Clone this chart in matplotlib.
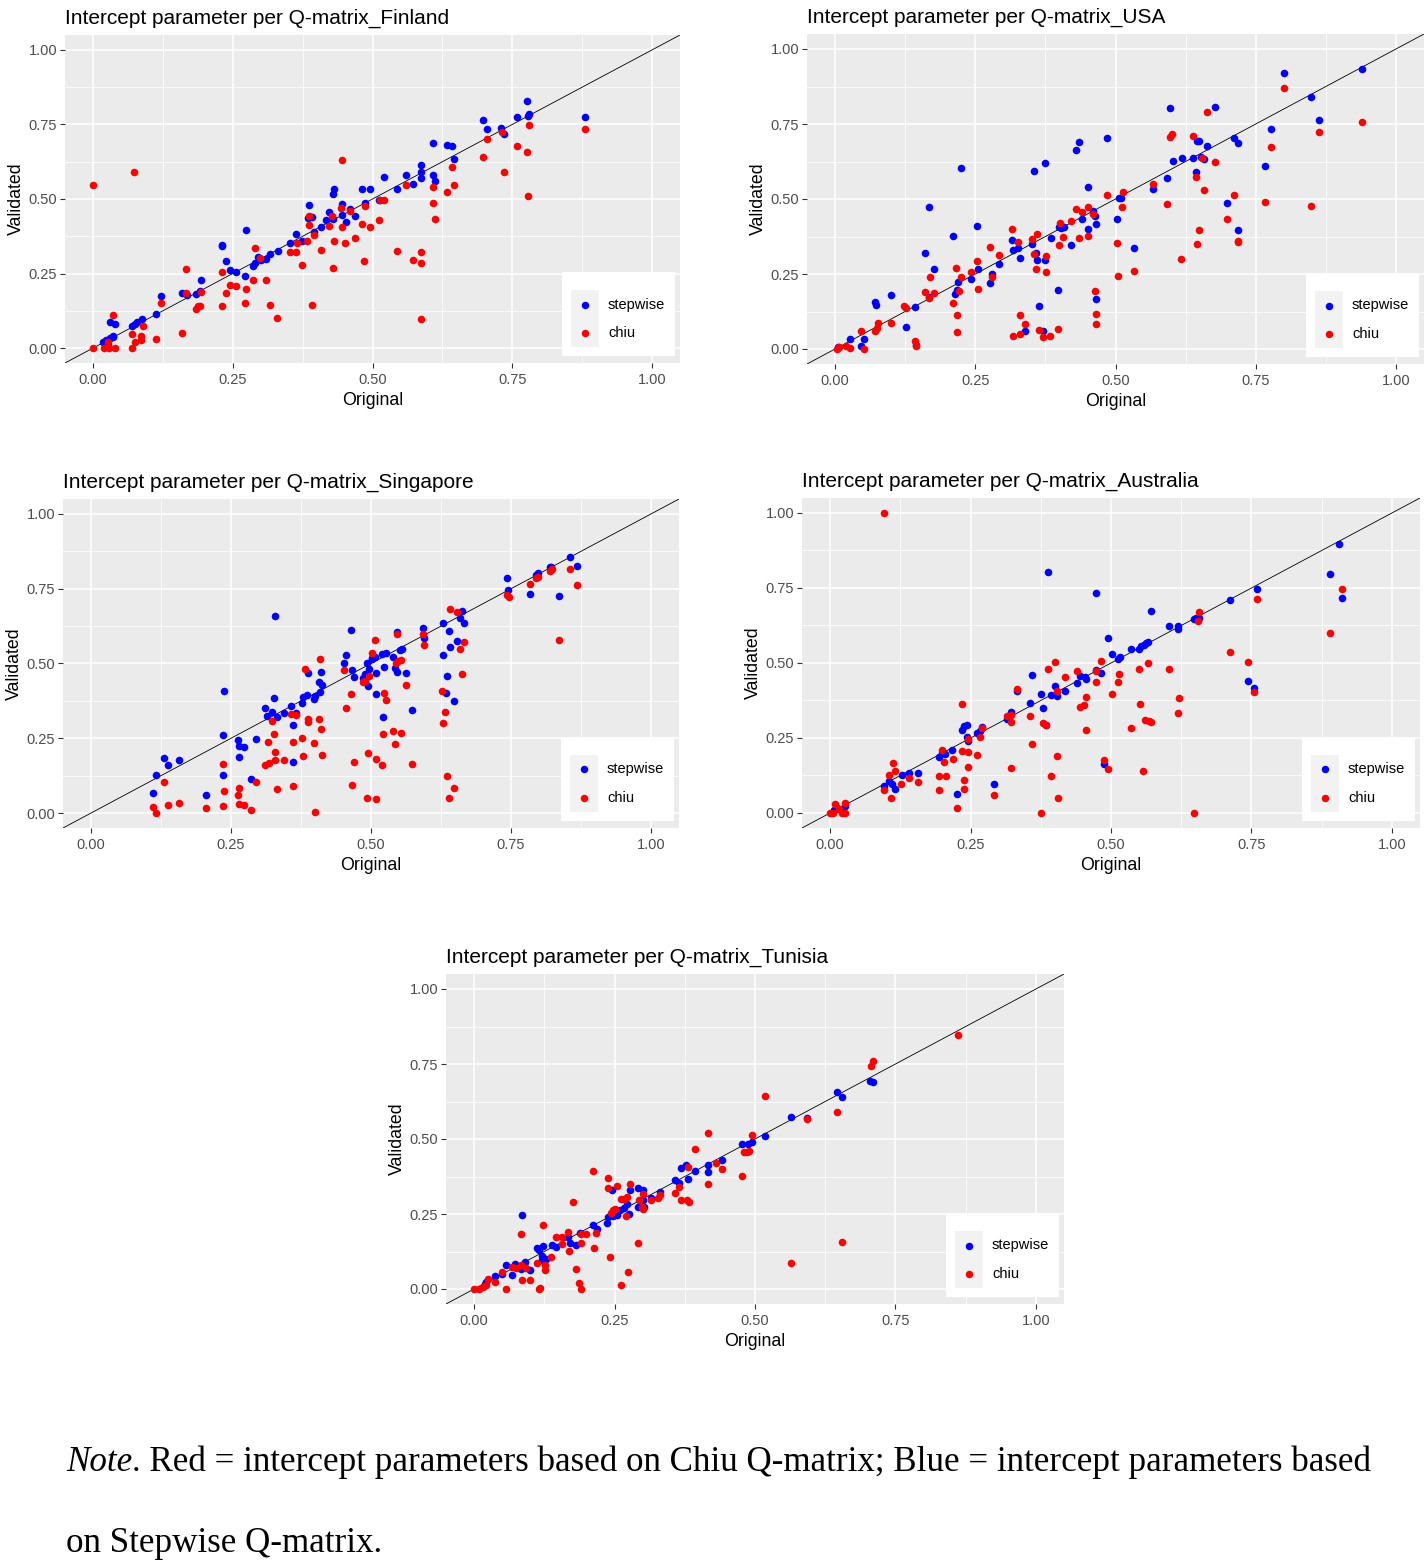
import numpy as np
import matplotlib
matplotlib.use('Agg')
import matplotlib.pyplot as plt
from matplotlib.patches import Rectangle
from matplotlib.lines import Line2D

# ---------------- data (Original, Validated) ----------------
fin_step = [(0.018,0.022),(0.024,0.028),(0.030,0.034),(0.035,0.037),(0.021,0.017),(0.027,0.011),(0.031,0.089),(0.039,0.082),
 (0.036,0.039),(0.069,0.073),(0.075,0.082),(0.079,0.086),(0.088,0.097),(0.112,0.114),(0.122,0.175),(0.159,0.184),(0.168,0.179),
 (0.184,0.181),(0.191,0.190),(0.193,0.229),(0.230,0.346),(0.231,0.341),(0.238,0.293),(0.246,0.263),(0.256,0.255),(0.272,0.242),
 (0.274,0.397),(0.286,0.276),(0.290,0.285),(0.295,0.304),(0.301,0.296),(0.310,0.298),(0.316,0.316),(0.331,0.326),(0.352,0.352),
 (0.363,0.383),(0.374,0.359),(0.385,0.436),(0.386,0.480),(0.388,0.441),(0.392,0.441),(0.395,0.389),(0.407,0.406),(0.417,0.428),
 (0.422,0.456),(0.429,0.432),(0.429,0.517),(0.431,0.534),(0.446,0.484),(0.446,0.447),(0.452,0.423),(0.459,0.467),(0.469,0.444),
 (0.481,0.533),(0.486,0.488),(0.495,0.533),(0.512,0.497),(0.520,0.575),(0.543,0.533),(0.560,0.579),(0.573,0.551),(0.587,0.615),
 (0.587,0.590),(0.587,0.570),(0.609,0.687),(0.609,0.581),(0.611,0.562),(0.634,0.680),(0.643,0.677),(0.646,0.634),(0.698,0.764),
 (0.705,0.734),(0.730,0.737),(0.736,0.717),(0.759,0.774),(0.777,0.830),(0.779,0.777),(0.780,0.785),(0.880,0.774)]
fin_chiu = [(0.000,0.547),(0.073,0.589),(0.000,0.000),(0.020,0.000),(0.029,0.000),(0.040,0.000),(0.027,0.022),(0.036,0.112),
 (0.070,0.000),(0.070,0.048),(0.076,0.021),(0.086,0.028),(0.086,0.041),(0.089,0.075),(0.112,0.030),(0.122,0.151),(0.159,0.050),
 (0.167,0.265),(0.166,0.184),(0.184,0.131),(0.188,0.140),(0.191,0.142),(0.193,0.187),(0.230,0.256),(0.231,0.142),(0.238,0.184),
 (0.246,0.211),(0.256,0.209),(0.272,0.151),(0.274,0.199),(0.286,0.229),(0.290,0.335),(0.298,0.302),(0.310,0.229),(0.316,0.144),
 (0.330,0.101),(0.352,0.323),(0.364,0.323),(0.365,0.352),(0.374,0.279),(0.383,0.360),(0.386,0.413),(0.386,0.444),(0.391,0.145),
 (0.396,0.380),(0.407,0.330),(0.422,0.408),(0.427,0.444),(0.429,0.269),(0.431,0.360),(0.443,0.469),(0.446,0.407),(0.446,0.631),
 (0.451,0.351),(0.459,0.460),(0.469,0.369),(0.481,0.417),(0.484,0.293),(0.486,0.477),(0.495,0.406),(0.512,0.430),(0.514,0.497),
 (0.520,0.495),(0.543,0.326),(0.560,0.546),(0.573,0.296),(0.587,0.322),(0.587,0.285),(0.587,0.097),(0.609,0.540),(0.609,0.486),
 (0.611,0.432),(0.634,0.523),(0.643,0.607),(0.646,0.546),(0.698,0.640),(0.705,0.701),(0.731,0.726),(0.736,0.591),(0.759,0.677),
 (0.777,0.656),(0.779,0.511),(0.780,0.747),(0.880,0.734)]

usa_step = [(0.005,0.006),(0.026,0.032),(0.046,0.010),(0.052,0.032),(0.071,0.156),(0.073,0.146),(0.100,0.179),(0.127,0.072),
 (0.143,0.139),(0.145,0.013),(0.160,0.319),(0.168,0.472),(0.167,0.174),(0.177,0.266),(0.211,0.376),(0.214,0.182),(0.219,0.222),
 (0.217,0.197),(0.224,0.602),(0.243,0.232),(0.253,0.409),(0.254,0.266),(0.277,0.219),(0.279,0.249),(0.292,0.282),(0.316,0.362),
 (0.318,0.329),(0.326,0.336),(0.330,0.302),(0.338,0.059),(0.351,0.349),(0.354,0.592),(0.359,0.319),(0.360,0.297),(0.364,0.142),
 (0.371,0.059),(0.375,0.619),(0.375,0.297),(0.385,0.369),(0.397,0.196),(0.399,0.408),(0.402,0.402),(0.408,0.406),(0.420,0.346),
 (0.429,0.662),(0.435,0.689),(0.440,0.434),(0.451,0.539),(0.451,0.399),(0.460,0.460),(0.464,0.444),(0.465,0.416),(0.465,0.166),
 (0.485,0.702),(0.503,0.432),(0.506,0.502),(0.510,0.504),(0.533,0.336),(0.566,0.532),(0.591,0.569),(0.597,0.802),(0.602,0.626),
 (0.618,0.636),(0.638,0.636),(0.643,0.590),(0.645,0.693),(0.648,0.693),(0.653,0.639),(0.657,0.632),(0.664,0.676),(0.677,0.806),
 (0.698,0.486),(0.711,0.702),(0.718,0.396),(0.719,0.686),(0.767,0.609),(0.778,0.732),(0.801,0.919),(0.848,0.839),(0.862,0.762),
 (0.940,0.932)]
usa_chiu = [(0.003,0.000),(0.007,0.006),(0.020,0.011),(0.026,0.004),(0.046,0.059),(0.052,0.000),(0.072,0.059),(0.074,0.071),
 (0.077,0.086),(0.100,0.086),(0.123,0.143),(0.127,0.137),(0.143,0.026),(0.145,0.010),(0.160,0.189),(0.167,0.169),(0.169,0.239),
 (0.177,0.186),(0.211,0.152),(0.215,0.269),(0.218,0.112),(0.218,0.056),(0.221,0.192),(0.224,0.241),(0.243,0.256),(0.253,0.293),
 (0.255,0.199),(0.277,0.339),(0.279,0.241),(0.292,0.312),(0.316,0.399),(0.318,0.043),(0.327,0.356),(0.329,0.050),(0.330,0.112),
 (0.338,0.083),(0.351,0.366),(0.354,0.317),(0.360,0.383),(0.359,0.267),(0.364,0.063),(0.371,0.039),(0.376,0.310),(0.376,0.256),
 (0.384,0.043),(0.397,0.066),(0.399,0.346),(0.401,0.419),(0.406,0.372),(0.420,0.426),(0.429,0.467),(0.435,0.369),(0.440,0.456),
 (0.451,0.473),(0.451,0.376),(0.460,0.449),(0.463,0.192),(0.465,0.116),(0.465,0.082),(0.484,0.512),(0.503,0.352),(0.505,0.242),
 (0.513,0.522),(0.511,0.472),(0.533,0.259),(0.566,0.551),(0.591,0.482),(0.597,0.706),(0.601,0.716),(0.617,0.299),(0.638,0.709),
 (0.643,0.572),(0.645,0.349),(0.648,0.396),(0.654,0.636),(0.657,0.529),(0.664,0.789),(0.677,0.622),(0.698,0.432),(0.711,0.512),
 (0.718,0.359),(0.719,0.356),(0.767,0.489),(0.778,0.672),(0.801,0.869),(0.848,0.476),(0.862,0.722),(0.940,0.756)]

sgp_step = [(0.111,0.067),(0.116,0.127),(0.131,0.185),(0.138,0.160),(0.158,0.178),(0.206,0.060),(0.235,0.127),(0.236,0.261),
 (0.238,0.408),(0.263,0.244),(0.265,0.224),(0.265,0.189),(0.274,0.220),(0.285,0.114),(0.294,0.247),(0.311,0.351),(0.315,0.324),
 (0.323,0.337),(0.326,0.384),(0.328,0.658),(0.332,0.321),(0.344,0.334),(0.358,0.359),(0.360,0.294),(0.360,0.170),(0.366,0.334),
 (0.376,0.367),(0.378,0.388),(0.385,0.395),(0.387,0.468),(0.398,0.382),(0.400,0.393),(0.407,0.437),(0.410,0.473),(0.412,0.427),
 (0.409,0.406),(0.452,0.501),(0.455,0.528),(0.464,0.611),(0.466,0.479),(0.470,0.454),(0.485,0.451),(0.489,0.464),(0.492,0.503),
 (0.495,0.424),(0.497,0.481),(0.502,0.518),(0.508,0.523),(0.509,0.468),(0.509,0.398),(0.501,0.516),(0.522,0.321),(0.520,0.531),
 (0.526,0.535),(0.524,0.487),(0.540,0.523),(0.542,0.484),(0.546,0.470),(0.547,0.605),(0.552,0.545),(0.555,0.547),(0.563,0.467),
 (0.574,0.344),(0.592,0.618),(0.594,0.585),(0.628,0.528),(0.629,0.635),(0.636,0.458),(0.634,0.401),(0.639,0.608),(0.641,0.555),
 (0.649,0.374),(0.654,0.575),(0.659,0.651),(0.663,0.675),(0.666,0.635),(0.743,0.785),(0.745,0.745),(0.784,0.732),(0.795,0.795),
 (0.799,0.803),(0.819,0.823),(0.822,0.823),(0.836,0.725),(0.855,0.855),(0.867,0.825)]
sgp_chiu = [(0.111,0.020),(0.116,0.000),(0.131,0.104),(0.138,0.027),(0.158,0.033),(0.206,0.017),(0.235,0.023),(0.236,0.164),
 (0.238,0.073),(0.263,0.060),(0.265,0.084),(0.265,0.030),(0.274,0.027),(0.285,0.010),(0.294,0.104),(0.311,0.160),(0.317,0.167),
 (0.316,0.237),(0.324,0.307),(0.326,0.264),(0.328,0.204),(0.328,0.176),(0.332,0.080),(0.344,0.176),(0.358,0.331),(0.366,0.327),
 (0.360,0.237),(0.360,0.090),(0.376,0.251),(0.378,0.192),(0.383,0.482),(0.387,0.314),(0.387,0.306),(0.398,0.234),(0.400,0.003),
 (0.407,0.314),(0.409,0.514),(0.410,0.281),(0.412,0.195),(0.452,0.479),(0.455,0.351),(0.464,0.398),(0.466,0.094),(0.470,0.170),
 (0.485,0.438),(0.489,0.440),(0.493,0.050),(0.495,0.200),(0.497,0.458),(0.502,0.535),(0.508,0.578),(0.509,0.182),(0.509,0.047),
 (0.520,0.160),(0.522,0.264),(0.524,0.401),(0.526,0.378),(0.540,0.274),(0.542,0.231),(0.545,0.500),(0.549,0.507),(0.553,0.511),
 (0.547,0.598),(0.554,0.267),(0.563,0.428),(0.574,0.164),(0.592,0.598),(0.594,0.561),(0.627,0.408),(0.629,0.301),(0.632,0.337),
 (0.636,0.124),(0.640,0.050),(0.649,0.084),(0.641,0.682),(0.654,0.671),(0.659,0.548),(0.663,0.464),(0.666,0.571),(0.743,0.729),
 (0.746,0.722),(0.784,0.767),(0.795,0.785),(0.799,0.788),(0.819,0.808),(0.823,0.815),(0.836,0.578),(0.855,0.815),(0.867,0.764)]

aus_step = [(0.007,0.011),(0.013,0.017),(0.027,0.022),(0.022,0.014),(0.096,0.089),(0.105,0.108),(0.110,0.097),(0.116,0.081),
 (0.128,0.128),(0.140,0.134),(0.156,0.134),(0.194,0.188),(0.200,0.200),(0.205,0.197),(0.217,0.211),(0.225,0.064),(0.235,0.278),
 (0.239,0.291),(0.243,0.294),(0.244,0.252),(0.246,0.239),(0.262,0.267),(0.267,0.272),(0.270,0.287),(0.292,0.097),(0.314,0.314),
 (0.322,0.338),(0.332,0.408),(0.355,0.367),(0.360,0.460),(0.376,0.397),(0.379,0.349),(0.385,0.292),(0.387,0.803),(0.394,0.394),
 (0.401,0.424),(0.404,0.390),(0.419,0.407),(0.440,0.432),(0.444,0.456),(0.454,0.452),(0.456,0.447),(0.473,0.476),(0.474,0.733),
 (0.483,0.467),(0.488,0.164),(0.495,0.583),(0.502,0.530),(0.512,0.514),(0.516,0.520),(0.535,0.547),(0.549,0.547),(0.553,0.556),
 (0.558,0.559),(0.562,0.567),(0.565,0.571),(0.571,0.673),(0.603,0.623),(0.620,0.623),(0.619,0.613),(0.647,0.647),(0.651,0.650),
 (0.657,0.650),(0.711,0.710),(0.743,0.441),(0.754,0.418),(0.760,0.747),(0.889,0.797),(0.905,0.897),(0.911,0.717)]
aus_chiu = [(0.000,0.000),(0.005,0.000),(0.009,0.030),(0.015,0.014),(0.022,0.000),(0.027,0.000),(0.026,0.033),(0.096,1.000),
 (0.096,0.078),(0.105,0.127),(0.109,0.050),(0.112,0.167),(0.116,0.141),(0.126,0.097),(0.140,0.117),(0.156,0.103),(0.194,0.122),
 (0.194,0.077),(0.200,0.210),(0.203,0.170),(0.207,0.123),(0.218,0.180),(0.225,0.017),(0.235,0.363),(0.234,0.208),(0.239,0.109),
 (0.239,0.080),(0.245,0.203),(0.246,0.153),(0.245,0.247),(0.262,0.193),(0.267,0.253),(0.270,0.283),(0.292,0.061),(0.314,0.322),
 (0.322,0.328),(0.322,0.302),(0.322,0.150),(0.333,0.413),(0.355,0.323),(0.360,0.230),(0.376,0.000),(0.379,0.300),(0.384,0.294),
 (0.387,0.480),(0.394,0.123),(0.400,0.503),(0.403,0.190),(0.404,0.408),(0.405,0.050),(0.419,0.453),(0.440,0.474),(0.444,0.353),
 (0.452,0.361),(0.456,0.387),(0.456,0.277),(0.474,0.437),(0.474,0.473),(0.482,0.508),(0.488,0.177),(0.495,0.147),(0.502,0.397),
 (0.515,0.463),(0.512,0.437),(0.549,0.480),(0.565,0.500),(0.552,0.363),(0.535,0.283),(0.561,0.310),(0.567,0.307),(0.571,0.304),
 (0.557,0.140),(0.603,0.480),(0.621,0.383),(0.619,0.333),(0.647,0.000),(0.654,0.639),(0.657,0.670),(0.711,0.537),(0.743,0.503),
 (0.754,0.403),(0.760,0.713),(0.889,0.600),(0.911,0.747)]

tun_step = [(0.019,0.017),(0.022,0.024),(0.037,0.043),(0.049,0.049),(0.056,0.079),(0.068,0.047),(0.072,0.083),(0.083,0.066),
 (0.086,0.246),(0.091,0.089),(0.100,0.062),(0.112,0.137),(0.116,0.130),(0.120,0.110),(0.123,0.143),(0.128,0.101),(0.120,0.097),
 (0.138,0.146),(0.146,0.139),(0.167,0.172),(0.171,0.154),(0.181,0.146),(0.189,0.188),(0.212,0.212),(0.218,0.201),(0.238,0.240),
 (0.237,0.219),(0.245,0.329),(0.248,0.243),(0.255,0.248),(0.260,0.263),(0.266,0.269),(0.273,0.282),(0.276,0.249),(0.278,0.329),
 (0.292,0.336),(0.292,0.273),(0.301,0.329),(0.301,0.297),(0.302,0.272),(0.314,0.304),(0.331,0.323),(0.357,0.363),(0.365,0.354),
 (0.369,0.402),(0.378,0.413),(0.381,0.366),(0.394,0.393),(0.417,0.412),(0.417,0.390),(0.442,0.429),(0.477,0.484),(0.488,0.484),
 (0.494,0.490),(0.518,0.509),(0.564,0.574),(0.592,0.571),(0.646,0.656),(0.655,0.639),(0.705,0.693),(0.710,0.689)]
tun_chiu = [(0.000,0.000),(0.009,0.000),(0.016,0.006),(0.022,0.013),(0.024,0.032),(0.037,0.024),(0.050,0.057),(0.057,0.000),
 (0.067,0.074),(0.074,0.071),(0.084,0.079),(0.092,0.071),(0.083,0.182),(0.086,0.030),(0.100,0.030),(0.112,0.086),(0.116,0.000),
 (0.118,0.002),(0.123,0.212),(0.126,0.080),(0.126,0.062),(0.137,0.106),(0.145,0.172),(0.156,0.172),(0.156,0.150),(0.168,0.189),
 (0.169,0.126),(0.176,0.289),(0.181,0.067),(0.187,0.019),(0.191,0.000),(0.191,0.152),(0.191,0.182),(0.200,0.182),(0.211,0.393),
 (0.214,0.136),(0.217,0.186),(0.238,0.336),(0.239,0.369),(0.242,0.106),(0.244,0.254),(0.248,0.263),(0.251,0.266),(0.254,0.343),
 (0.261,0.013),(0.262,0.299),(0.266,0.301),(0.270,0.243),(0.273,0.308),(0.274,0.057),(0.278,0.350),(0.292,0.152),(0.293,0.297),
 (0.298,0.272),(0.301,0.266),(0.301,0.316),(0.314,0.297),(0.328,0.304),(0.331,0.313),(0.358,0.319),(0.365,0.340),(0.369,0.297),
 (0.379,0.297),(0.382,0.289),(0.381,0.408),(0.394,0.468),(0.417,0.351),(0.417,0.519),(0.431,0.419),(0.442,0.399),(0.477,0.376),
 (0.480,0.456),(0.485,0.458),(0.490,0.461),(0.494,0.512),(0.517,0.642),(0.564,0.086),(0.592,0.566),(0.646,0.589),(0.655,0.156),
 (0.706,0.744),(0.710,0.761),(0.861,0.846)]

countries = ['Finland', 'USA', 'Singapore', 'Australia', 'Tunisia']
data = {'Finland': (fin_step, fin_chiu), 'USA': (usa_step, usa_chiu),
        'Singapore': (sgp_step, sgp_chiu), 'Australia': (aus_step, aus_chiu),
        'Tunisia': (tun_step, tun_chiu)}
series_labels = ['stepwise', 'chiu']
series_colors = ['#0000FF', '#FF0000']
tick_vals = [0, 0.25, 0.5, 0.75, 1.0]
tick_labels = ['0.00', '0.25', '0.50', '0.75', '1.00']
title_prefix = 'Intercept parameter per Q-matrix_'
xlab, ylab = 'Original', 'Validated'
note_italic = 'Note'
note_line1 = '. Red = intercept parameters based on Chiu Q-matrix; Blue = intercept parameters based'
note_line2 = 'on Stepwise Q-matrix.'

# ---------------- layout ----------------
W, H = 1427, 1562
fig = plt.figure(figsize=(W / 100, H / 100), dpi=100)
fig.patch.set_facecolor('white')
SANS = ['Liberation Sans', 'DejaVu Sans']
SERIF = ['Liberation Serif', 'DejaVu Serif']

panel_px = {'Finland': (65, 35, 615, 328), 'USA': (807, 34, 617, 330),
            'Singapore': (63, 499, 616, 329), 'Australia': (802, 498, 618, 330),
            'Tunisia': (446, 974, 618, 330)}

def fx(px):
    return px / W

def fy(py):
    return 1 - py / H

for c in countries:
    l, t, w, h = panel_px[c]
    ax = fig.add_axes([l / W, 1 - (t + h) / H, w / W, h / H])
    ax.set_facecolor('#EBEBEB')
    ax.set_xlim(-0.05, 1.05)
    ax.set_ylim(-0.05, 1.05)
    ax.set_xticks(tick_vals)
    ax.set_xticklabels(tick_labels, family=SANS)
    ax.set_yticks(tick_vals)
    ax.set_yticklabels(tick_labels, family=SANS)
    minor = [0.125, 0.375, 0.625, 0.875]
    ax.set_xticks(minor, minor=True)
    ax.set_yticks(minor, minor=True)
    for s in ax.spines.values():
        s.set_visible(False)
    ax.tick_params(which='major', length=3.3, width=0.8, color='#333333',
                   labelcolor='#4D4D4D', labelsize=10.5, pad=2.2)
    ax.tick_params(axis='x', which='major', pad=4.0)
    ax.tick_params(which='minor', length=0)
    ax.set_axisbelow(True)
    ax.grid(which='major', color='white', lw=1.1)
    ax.grid(which='minor', color='white', lw=0.55)
    ax.axline((0, 0), (1, 1), color='black', lw=0.6, zorder=2)
    step, chiu = data[c]
    for pts, col, z in ((step, series_colors[0], 3), (chiu, series_colors[1], 4)):
        arr = np.array(pts)
        ax.scatter(arr[:, 0], arr[:, 1], s=30, color=col, linewidths=0, zorder=z)
    ax.set_title(title_prefix + c, loc='left', fontsize=15, pad=8,
                 family=SANS, color='black')
    ax.set_xlabel(xlab, fontsize=12.8, family=SANS, labelpad=3.5)
    ax.set_ylabel(ylab, fontsize=12.8, family=SANS, labelpad=3)

    # legend (ggplot-style, inside bottom-right)
    bx = l + w - 5 - 113
    by = t + h - 7 - 84
    fig.add_artist(Rectangle((fx(bx), fy(by + 84)), 113 / W, 84 / H,
                             transform=fig.transFigure, facecolor='white',
                             edgecolor='none', zorder=5))
    for i, (lab, col) in enumerate(zip(series_labels, series_colors)):
        ky = by + 18 + i * 28.5
        fig.add_artist(Rectangle((fx(bx + 9), fy(ky + 28.5)), 28 / W, 28.5 / H,
                                 transform=fig.transFigure, facecolor='#F2F2F2',
                                 edgecolor='none', zorder=6))
        cy = ky + 14.5
        fig.add_artist(Line2D([fx(bx + 23)], [fy(cy)], marker='o', ms=5.4,
                              color=col, markeredgewidth=0, linestyle='none',
                              transform=fig.transFigure, zorder=7))
        fig.text(fx(bx + 46), fy(cy), lab, fontsize=10.5, family=SANS,
                 va='center', ha='left', color='black', zorder=7)

# ---------------- note ----------------
t_it = fig.text(fx(66), fy(1471), note_italic, fontsize=25.2, family=SERIF,
                style='italic', va='baseline', ha='left')
fig.canvas.draw()
bb = t_it.get_window_extent(renderer=fig.canvas.get_renderer())
fig.text(bb.x1 / W, fy(1471), note_line1, fontsize=25.2, family=SERIF,
         va='baseline', ha='left')
fig.text(fx(66), fy(1552), note_line2, fontsize=25.2, family=SERIF,
         va='baseline', ha='left')

fig.savefig('out.png', dpi=100, facecolor='white')
